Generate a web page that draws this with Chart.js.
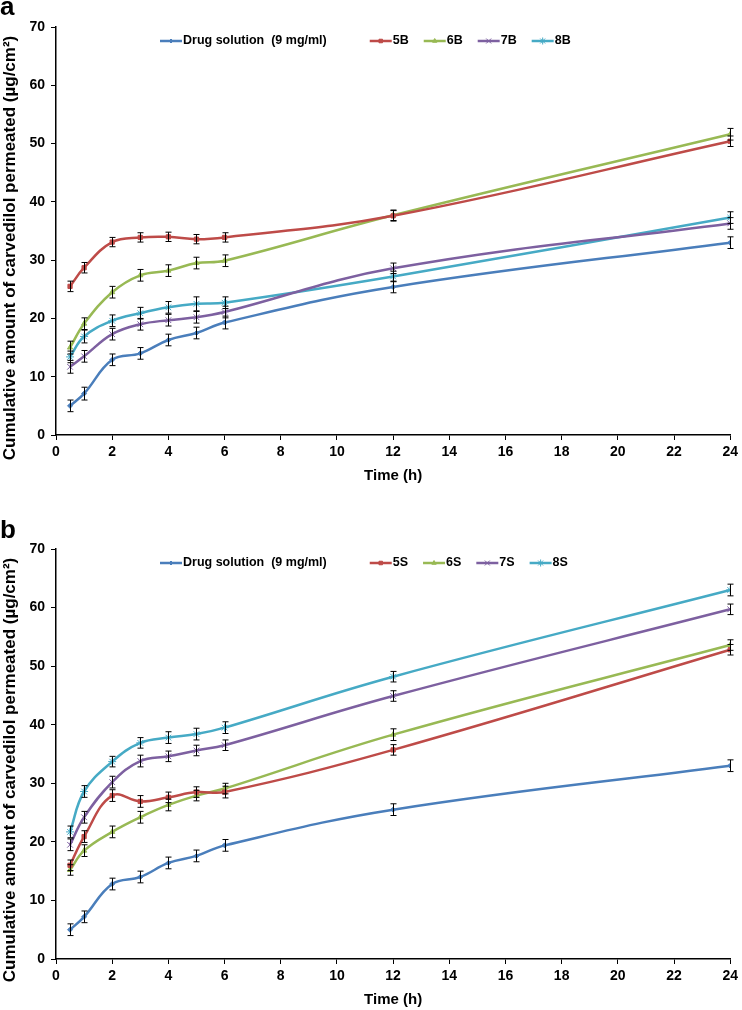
<!DOCTYPE html>
<html>
<head>
<meta charset="utf-8">
<script src="https://cdn.jsdelivr.net/npm/chart.js@4.4.1/dist/chart.umd.min.js"></script>
<style>
    html, body { margin: 0; padding: 0; background: #fff; }
    body { width: 742px; height: 1010px; position: relative; overflow: hidden; }
    canvas { position: absolute; left: 0; }
    #chartA { top: 0; }
    #chartB { top: 520px; }
</style>
</head>
<body>
<canvas id="chartA" width="742" height="490"></canvas>
<canvas id="chartB" width="742" height="490"></canvas>
<script>
/*
* Sampling times, h
*/
const times = [0.5, 1, 2, 3, 4, 5, 6, 12, 24];

/*
* Panel a - drug solution and B formulations
*/
const labelsA = ['Drug solution  (9 mg/ml)', '5B', '6B', '7B', '8B'];
const drugA = [5.0, 7.1, 12.9, 14.0, 16.3, 17.5, 19.3, 25.4, 33.0];
const f5B = [25.5, 28.7, 33.1, 33.9, 34.0, 33.6, 33.9, 37.6, 50.4];
const f6B = [15.0, 19.1, 24.5, 27.4, 28.2, 29.5, 29.9, 37.7, 51.6];
const f7B = [11.7, 13.5, 17.3, 19.0, 19.7, 20.2, 21.1, 28.6, 36.3];
const f8B = [13.4, 16.9, 19.6, 20.9, 21.9, 22.5, 22.7, 27.2, 37.3];
const errDrugA = [1.0, 1.1, 1.0, 1.0, 1.0, 1.0, 1.1, 1.0, 1.0];
const err5B = [0.9, 0.9, 0.8, 0.8, 0.8, 0.8, 0.8, 0.9, 0.9];
const err6B = [1.1, 1.0, 1.0, 1.0, 1.0, 1.0, 1.0, 0.9, 1.0];
const err7B = [1.1, 1.0, 1.0, 1.0, 1.0, 1.0, 1.0, 0.9, 1.0];
const err8B = [1.0, 1.1, 1.0, 1.0, 1.0, 1.2, 1.0, 0.9, 1.0];

/*
* Panel b - drug solution and S formulations
*/
const labelsB = ['Drug solution  (9 mg/ml)', '5S', '6S', '7S', '8S'];
const drugB = [5.0, 7.2, 12.8, 14.0, 16.4, 17.6, 19.4, 25.5, 33.0];
const f5S = [16.0, 20.9, 27.9, 26.9, 27.6, 28.5, 28.5, 35.7, 52.8];
const f6S = [15.2, 18.5, 21.7, 24.2, 26.3, 27.9, 29.1, 38.3, 53.6];
const f7S = [19.5, 24.2, 30.2, 33.8, 34.6, 35.6, 36.5, 44.9, 59.7];
const f8S = [21.7, 28.6, 33.7, 36.9, 37.8, 38.4, 39.5, 48.2, 63.0];
const errDrugB = [1.0, 1.0, 1.0, 1.0, 1.0, 1.0, 1.0, 1.0, 1.0];
const err5S = [0.9, 1.0, 1.0, 1.0, 0.9, 0.9, 1.0, 0.9, 0.9];
const err6S = [0.9, 1.0, 1.0, 1.0, 1.0, 0.9, 0.9, 1.0, 0.9];
const err7S = [1.0, 1.0, 1.0, 1.0, 0.9, 0.9, 0.9, 0.9, 0.9];
const err8S = [1.0, 1.0, 0.9, 0.9, 1.0, 1.0, 1.0, 0.9, 1.0];

const yTitle = 'Cumulative amount of carvedilol permeated (µg/cm²)';
const xTitle = 'Time (h)';

const colors = ['#4A7EBB', '#BE4B48', '#98B954', '#7D60A0', '#46AAC5'];
const styles = ['rectRot', 'rect', 'triangle', 'crossRot', 'star'];
const radii = [2.5, 3, 3, 4, 4];
const FONT = '"Liberation Sans", Arial, sans-serif';

Chart.defaults.font.family = FONT;
Chart.defaults.color = '#000';

function makeDatasets(labels, series, errors) {
    return series.map((vals, i) => ({
        label: labels[i],
        data: vals.map((v, j) => ({x: times[j], y: v})),
        errors: errors[i],
        borderColor: colors[i],
        backgroundColor: colors[i],
        borderWidth: 2.5,
        pointStyle: styles[i],
        pointRadius: radii[i],
        pointBorderWidth: 1,
        tension: 0.4
    }));
}

/*
* Error bars, legend inside the plot, panel letter and y title
*/
const extras = {
    id: 'extras',
    afterDatasetsDraw(chart) {
        const ctx = chart.ctx;
        const xs = chart.scales.x, ys = chart.scales.y;
        ctx.save();
        ctx.strokeStyle = '#000';
        ctx.lineWidth = 1;
        chart.data.datasets.forEach(ds => {
            ds.data.forEach((p, j) => {
                const e = ds.errors[j];
                const px = Math.round(xs.getPixelForValue(p.x)) + 0.5;
                const y1 = ys.getPixelForValue(p.y + e);
                const y2 = ys.getPixelForValue(p.y - e);
                ctx.beginPath();
                ctx.moveTo(px, y1); ctx.lineTo(px, y2);
                ctx.moveTo(px - 3, y1); ctx.lineTo(px + 3, y1);
                ctx.moveTo(px - 3, y2); ctx.lineTo(px + 3, y2);
                ctx.stroke();
            });
        });
        ctx.restore();
    },
    afterDraw(chart, args, opts) {
        const ctx = chart.ctx;
        const area = chart.chartArea;
        ctx.save();

        // panel letter
        ctx.fillStyle = '#000';
        ctx.font = 'bold 26px ' + FONT;
        ctx.textBaseline = 'alphabetic';
        ctx.textAlign = 'left';
        ctx.fillText(opts.letter, 0, opts.letterY);

        // y title
        ctx.font = 'bold 17px ' + FONT;
        ctx.textAlign = 'center';
        ctx.textBaseline = 'middle';
        ctx.translate(10, area.top + 221);
        ctx.rotate(-Math.PI / 2);
        ctx.fillText(yTitle, 0, 0);
        ctx.restore();

        // legend
        ctx.save();
        ctx.font = 'bold 12.5px ' + FONT;
        ctx.textBaseline = 'middle';
        ctx.textAlign = 'left';
        const ly = area.top + 14;
        let lx = 160;
        chart.data.datasets.forEach((ds, i) => {
            ctx.strokeStyle = ds.borderColor;
            ctx.fillStyle = ds.backgroundColor;
            ctx.lineWidth = 2.5;
            ctx.beginPath();
            ctx.moveTo(lx, ly); ctx.lineTo(lx + 22, ly);
            ctx.stroke();
            ctx.lineWidth = 1;
            if (Chart.helpers && Chart.helpers.drawPoint) {
                Chart.helpers.drawPoint(ctx, {pointStyle: ds.pointStyle, radius: ds.pointRadius - 0.5, borderWidth: 1, rotation: 0}, lx + 11, ly);
            }
            ctx.fillStyle = '#000';
            ctx.fillText(ds.label, lx + 23, ly);
            lx += 23 + ctx.measureText(ds.label).width + (i === 0 ? 43 : 15);
        });
        ctx.restore();
    }
};

function makeChart(canvas, labels, series, errors, letter, letterY, padTop, padBottom) {
    return new Chart(canvas, {
        type: 'line',
        data: {datasets: makeDatasets(labels, series, errors)},
        plugins: [extras],
        options: {
            responsive: false,
            devicePixelRatio: 1,
            animation: false,
            layout: {padding: {top: padTop, bottom: padBottom, left: 0, right: 8}},
            plugins: {
                legend: {display: false},
                tooltip: {enabled: false},
                extras: {letter: letter, letterY: letterY}
            },
            scales: {
                x: {
                    type: 'linear',
                    min: 0,
                    max: 24,
                    ticks: {stepSize: 2, padding: 4, font: {size: 14, weight: 'bold'}, color: '#000'},
                    grid: {drawOnChartArea: false, drawTicks: true, tickLength: 5, color: '#000'},
                    border: {color: '#000', width: 1.5},
                    title: {display: true, text: xTitle, padding: 0, font: {size: 15, weight: 'bold'}, color: '#000'},
                    afterFit: s => { s.height = 50; }
                },
                y: {
                    min: 0,
                    max: 70,
                    ticks: {stepSize: 10, padding: 6, font: {size: 14, weight: 'bold'}, color: '#000'},
                    grid: {drawOnChartArea: false, drawTicks: true, tickLength: 5, color: '#000'},
                    border: {color: '#000', width: 1.5},
                    afterFit: s => { s.width = 56; }
                }
            }
        }
    });
}

document.addEventListener('DOMContentLoaded', () => {
    makeChart(document.getElementById('chartA'), labelsA,
        [drugA, f5B, f6B, f7B, f8B], [errDrugA, err5B, err6B, err7B, err8B], 'a', 15, 27, 5);
    makeChart(document.getElementById('chartB'), labelsB,
        [drugB, f5S, f6S, f7S, f8S], [errDrugB, err5S, err6S, err7S, err8S], 'b', 18, 29, 1);
});
</script>
</body>
</html>
